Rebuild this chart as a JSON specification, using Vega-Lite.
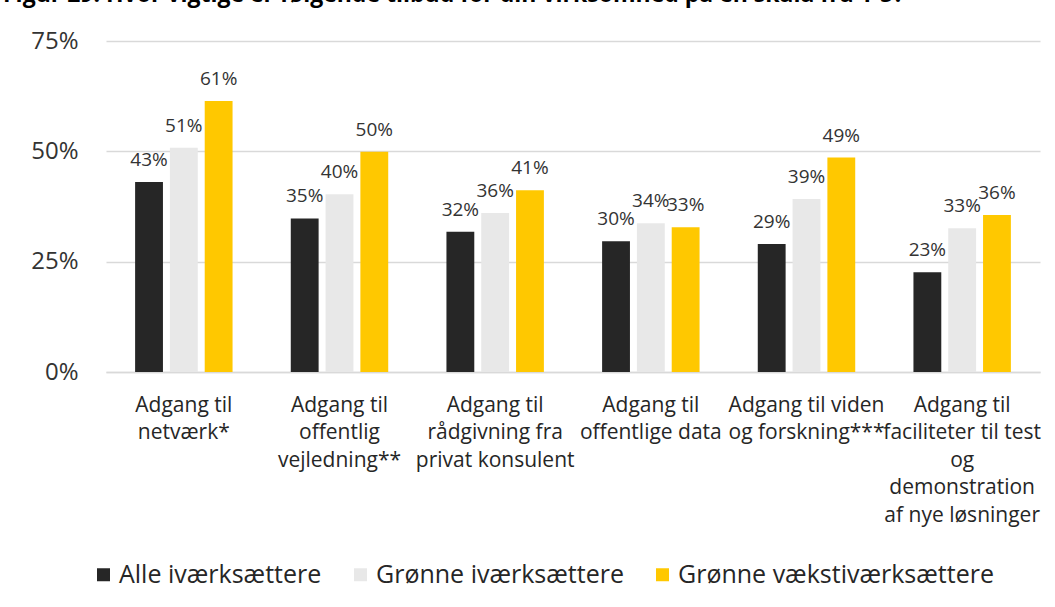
{
  "$schema": "https://vega.github.io/schema/vega-lite/v6.json",
  "autosize": "none",
  "width": 934,
  "height": 331,
  "padding": {"left": 106, "top": 41, "right": 15, "bottom": 235},
  "background": "white",
  "config": {"font": "Open Sans", "view": {"stroke": null}},
  "title": {
    "text": "Figur 29: Hvor vigtige er følgende tilbud for din virksomhed på en skala fra 1-5?",
    "anchor": "start",
    "frame": "group",
    "fontSize": 23,
    "fontWeight": "bold",
    "font": "Open Sans",
    "color": "#000000",
    "dx": -103,
    "offset": 22
  },
  "data": {
    "values": [
      {"kategori": "Adgang til|netværk*", "gruppe": "Alle iværksættere", "andel": 0.4305},
      {"kategori": "Adgang til|netværk*", "gruppe": "Grønne iværksættere", "andel": 0.508},
      {"kategori": "Adgang til|netværk*", "gruppe": "Grønne vækstiværksættere", "andel": 0.614},
      {"kategori": "Adgang til|offentlig|vejledning**", "gruppe": "Alle iværksættere", "andel": 0.348},
      {"kategori": "Adgang til|offentlig|vejledning**", "gruppe": "Grønne iværksættere", "andel": 0.403},
      {"kategori": "Adgang til|offentlig|vejledning**", "gruppe": "Grønne vækstiværksættere", "andel": 0.499},
      {"kategori": "Adgang til|rådgivning fra|privat konsulent", "gruppe": "Alle iværksættere", "andel": 0.318},
      {"kategori": "Adgang til|rådgivning fra|privat konsulent", "gruppe": "Grønne iværksættere", "andel": 0.36},
      {"kategori": "Adgang til|rådgivning fra|privat konsulent", "gruppe": "Grønne vækstiværksættere", "andel": 0.412},
      {"kategori": "Adgang til|offentlige data", "gruppe": "Alle iværksættere", "andel": 0.296},
      {"kategori": "Adgang til|offentlige data", "gruppe": "Grønne iværksættere", "andel": 0.337},
      {"kategori": "Adgang til|offentlige data", "gruppe": "Grønne vækstiværksættere", "andel": 0.328},
      {"kategori": "Adgang til viden|og forskning***", "gruppe": "Alle iværksættere", "andel": 0.29},
      {"kategori": "Adgang til viden|og forskning***", "gruppe": "Grønne iværksættere", "andel": 0.392},
      {"kategori": "Adgang til viden|og forskning***", "gruppe": "Grønne vækstiværksættere", "andel": 0.486},
      {"kategori": "Adgang til|faciliteter til test|og|demonstration|af nye løsninger", "gruppe": "Alle iværksættere", "andel": 0.226},
      {"kategori": "Adgang til|faciliteter til test|og|demonstration|af nye løsninger", "gruppe": "Grønne iværksættere", "andel": 0.326},
      {"kategori": "Adgang til|faciliteter til test|og|demonstration|af nye løsninger", "gruppe": "Grønne vækstiværksættere", "andel": 0.356}
    ]
  },
  "encoding": {
    "x": {
      "field": "kategori",
      "type": "nominal",
      "sort": null,
      "scale": {"paddingInner": 0.374, "paddingOuter": 0.187},
      "axis": {
        "title": null,
        "labelAngle": 0,
        "labelExpr": "split(datum.label, '|')",
        "labelFontSize": 21,
        "labelLineHeight": 27.5,
        "labelPadding": 22,
        "labelBaseline": "top",
        "labelColor": "#262626",
        "labelLimit": 0,
        "labelOverlap": false,
        "ticks": false,
        "domainColor": "#D9D9D9",
        "domainWidth": 1.5
      }
    },
    "xOffset": {
      "field": "gruppe",
      "type": "nominal",
      "sort": null,
      "scale": {"paddingInner": 0.2, "paddingOuter": 0}
    },
    "y": {
      "field": "andel",
      "type": "quantitative",
      "scale": {"domain": [0, 0.75]},
      "axis": {
        "title": null,
        "values": [0, 0.25, 0.5, 0.75],
        "format": ".0%",
        "grid": true,
        "gridColor": "#D9D9D9",
        "gridWidth": 1.5,
        "domain": false,
        "ticks": false,
        "labelPadding": 28,
        "labelFontSize": 24,
        "labelColor": "#333333"
      }
    }
  },
  "layer": [
    {
      "mark": {"type": "bar"},
      "encoding": {
        "color": {
          "field": "gruppe",
          "type": "nominal",
          "scale": {
            "domain": ["Alle iværksættere", "Grønne iværksættere", "Grønne vækstiværksættere"],
            "range": ["#262626", "#E8E8E8", "#FFC800"]
          },
          "legend": {
            "orient": "none",
            "legendX": -15,
            "legendY": 521,
            "direction": "horizontal",
            "title": null,
            "symbolType": "square",
            "symbolSize": 169,
            "symbolStrokeWidth": 0,
            "labelFontSize": 25,
            "labelColor": "#262626",
            "labelOffset": 3,
            "columnPadding": 26,
            "labelLimit": 0
          }
        }
      }
    },
    {
      "mark": {"type": "text", "dy": -16, "baseline": "alphabetic", "fontSize": 19, "color": "#333333"},
      "encoding": {
        "text": {"field": "andel", "type": "quantitative", "format": ".0%"}
      }
    }
  ]
}
